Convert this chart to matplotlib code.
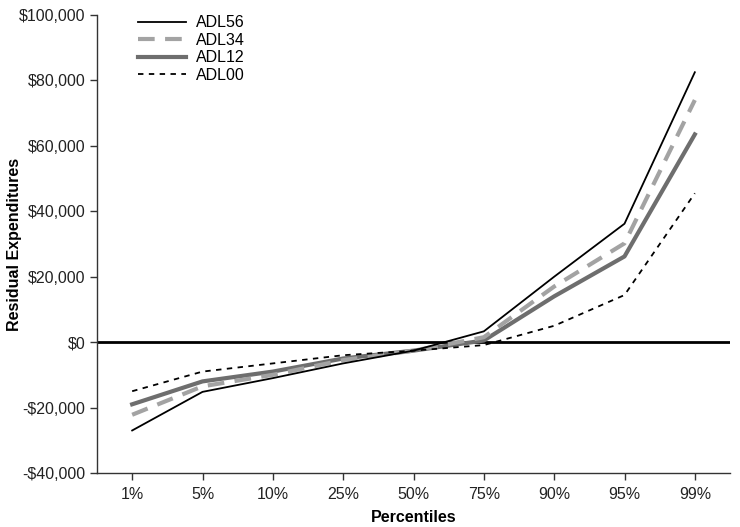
import matplotlib
matplotlib.use("Agg")
import matplotlib.pyplot as plt
from matplotlib.ticker import FuncFormatter

plt.rcParams['font.family'] = ['Liberation Sans', 'DejaVu Sans']

percentiles = ["1%", "5%", "10%", "25%", "50%", "75%", "90%", "95%", "99%"]
adl56 = [-27000, -15200, -11000, -6500, -2600, 3300, 20000, 36200, 82500]
adl34 = [-22200, -13500, -10000, -5500, -2600, 1500, 17000, 30200, 74000]
adl12 = [-19000, -12000, -9000, -5000, -2600, 500, 14000, 26200, 63500]
adl00 = [-15000, -9000, -6500, -4000, -2600, -900, 5000, 14400, 45500]

fig = plt.figure(figsize=(7.4, 5.27), dpi=100)
ax = fig.add_axes([97/740, 54/527, 633/740, 458/527])
x = list(range(len(percentiles)))

ax.axhline(0, color='black', lw=2.0, zorder=1)
ax.plot(x, adl56, color='black', lw=1.3, label='ADL56', zorder=5)
ax.plot(x, adl34, color='#a3a3a3', lw=3.0, dashes=(4, 2.5), label='ADL34', zorder=4)
ax.plot(x, adl12, color='#6e6e6e', lw=3.0, label='ADL12', zorder=3)
ax.plot(x, adl00, color='black', lw=1.3, dashes=(3, 3), label='ADL00', zorder=6)

ax.set_xlim(-0.5, 8.5)
ax.set_ylim(-40000, 100000)
ax.set_yticks(range(-40000, 100001, 20000))
ax.yaxis.set_major_formatter(FuncFormatter(lambda v, p: ("-$" if v < 0 else "$") + f"{abs(int(v)):,}"))
ax.set_xticks(x)
ax.set_xticklabels(percentiles)

for s in ['top', 'right']:
    ax.spines[s].set_visible(False)
for s in ['left', 'bottom']:
    ax.spines[s].set_color('#333333')
    ax.spines[s].set_linewidth(1.0)
ax.tick_params(axis='both', direction='out', length=5, width=1, color='#333333', labelsize=11.5, labelcolor='#222222')
ax.tick_params(axis='x', pad=5)

fig.text(414/740, 1 - 517/527, "Percentiles", fontsize=11.5, fontweight='bold', ha='center', va='center')
fig.text(15/740, 1 - 244/527, "Residual Expenditures", fontsize=11.5, fontweight='bold',
         ha='center', va='center', rotation=90)

leg = ax.legend(loc='upper left', bbox_to_anchor=(0.055, 1.013), frameon=False, fontsize=11.5,
                handlelength=3.0, handletextpad=0.6, labelspacing=0.15, borderaxespad=0)

fig.savefig("out.png", dpi=100)
